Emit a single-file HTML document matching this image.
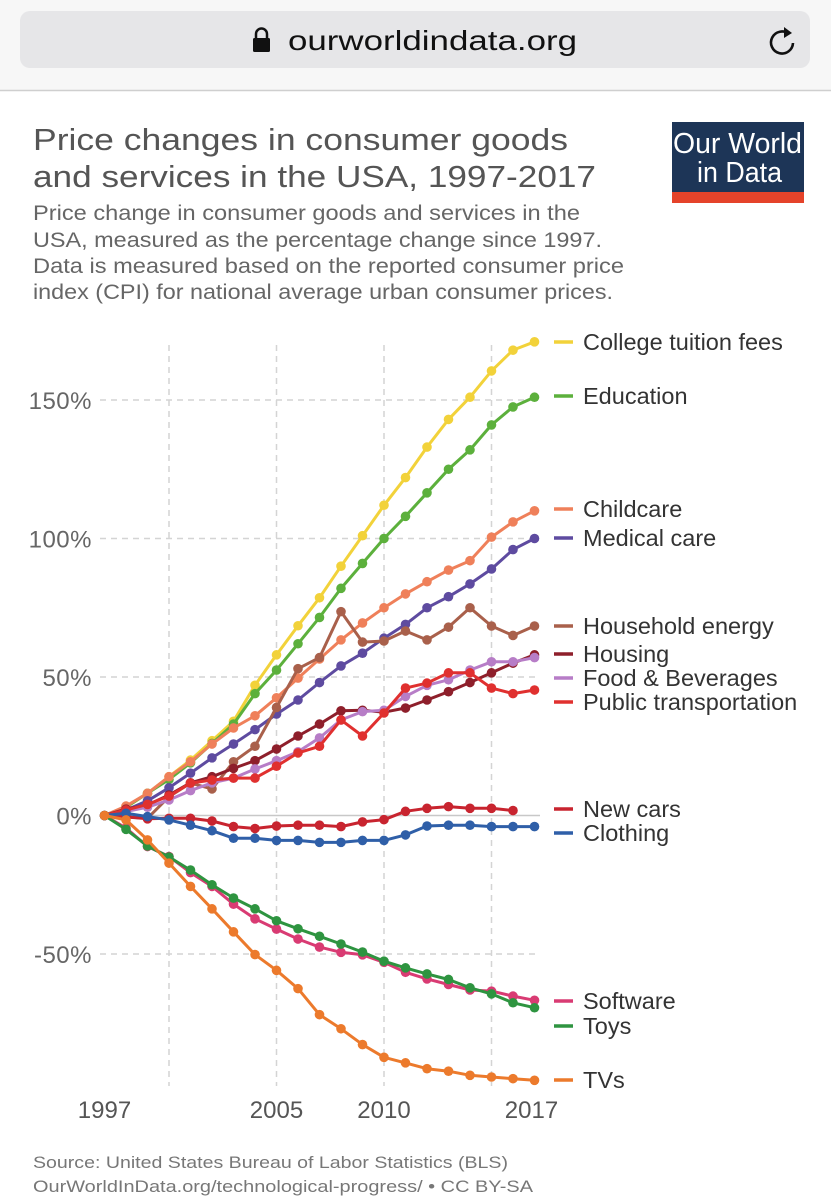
<!DOCTYPE html>
<html><head><meta charset="utf-8"><style>
html,body{margin:0;padding:0;background:#fff;}
svg{display:block;font-family:"Liberation Sans",Arial,sans-serif;}
</style></head><body>
<svg id="page" width="831" height="1200" viewBox="0 0 831 1200" xmlns="http://www.w3.org/2000/svg">
<rect x="0" y="0" width="831" height="90" fill="#f7f7f7"/>
<rect x="20" y="11" width="790" height="57" rx="10" fill="#e6e6e8"/>
<g><rect x="253" y="38" width="17" height="14" rx="1.5" fill="#111"/><path d="M256 39 v-5 a5.5 5.5 0 0 1 11 0 v5" fill="none" stroke="#111" stroke-width="2.5"/></g>
<text x="288" y="50" font-size="28" fill="#111" textLength="289" lengthAdjust="spacingAndGlyphs">ourworldindata.org</text>
<g><path d="M789 34 a11 11 0 1 0 4 9" fill="none" stroke="#111" stroke-width="2.6"/><path d="M784 27 l8 6 l-8 5 z" fill="#111"/></g>
<line x1="0" y1="90.5" x2="831" y2="90.5" stroke="#cfcfcf" stroke-width="1.5"/>
<text x="33" y="150" font-size="31" fill="#555" textLength="535" lengthAdjust="spacingAndGlyphs">Price changes in consumer goods</text>
<text x="33" y="187" font-size="31" fill="#555" textLength="563" lengthAdjust="spacingAndGlyphs">and services in the USA, 1997-2017</text>
<g fill="#666" font-size="21.5">
<text x="33" y="220" textLength="547" lengthAdjust="spacingAndGlyphs">Price change in consumer goods and services in the</text>
<text x="33" y="247" textLength="569" lengthAdjust="spacingAndGlyphs">USA, measured as the percentage change since 1997.</text>
<text x="33" y="273" textLength="591" lengthAdjust="spacingAndGlyphs">Data is measured based on the reported consumer price</text>
<text x="33" y="299" textLength="580" lengthAdjust="spacingAndGlyphs">index (CPI) for national average urban consumer prices.</text>
</g>
<g>
<rect x="672" y="122" width="132" height="81" fill="#1d3557"/>
<rect x="672" y="192" width="132" height="11" fill="#e5432a"/>
<text x="673" y="153" font-size="29" fill="#fff" textLength="129" lengthAdjust="spacingAndGlyphs">Our World</text>
<text x="697" y="182" font-size="29" fill="#fff" textLength="85" lengthAdjust="spacingAndGlyphs">in Data</text>
</g>
<g id="chart"></g>
<g fill="#777" font-size="17">
<text x="33" y="1168" textLength="475" lengthAdjust="spacingAndGlyphs">Source: United States Bureau of Labor Statistics (BLS)</text>
<text x="33" y="1192" textLength="500" lengthAdjust="spacingAndGlyphs">OurWorldInData.org/technological-progress/ • CC BY-SA</text>
</g>
</svg>
<script>
const years = [1997,1998,1999,2000,2001,2002,2003,2004,2005,2006,2007,2008,2009,2010,2011,2012,2013,2014,2015,2016,2017];
const seriesNames = ["College tuition fees","Education","Childcare","Medical care","Household energy","Housing","Food & Beverages","Public transportation","New cars","Clothing","Software","Toys","TVs"];
const seriesColors = ["#f2d23a","#5cb03c","#ef805a","#5e4ba0","#a9604b","#8e1f2b","#b77dc7","#e0302f","#c8242f","#2f5fa8","#d93b73","#2e9440","#ec7a2c"];
const tuition = [0,3,8,14,20,27,34,47,58,68.5,78.6,90,101,112,122,133,143,151,160.5,168,171];
const education = [0,3,8,13,19,26,33,44,52.5,62,71.5,82,91,100,108,116.5,125,132,141,147.5,151];
const childcare = [0,3.4,8,14,19.4,25.8,31.6,36,42.5,49.6,56.5,63.4,69.5,75,80,84.4,88.6,92,100.5,106,110];
const medical = [0,2,5.3,10,15.3,20.8,25.8,31,36.6,41.7,48,54,58.6,64,69,75,79,83.6,89,96,100];
const energy = [0,-0.5,-1,6.8,11.7,9.6,19.4,25,39,53,57,73.6,62.6,63,66.6,63.4,68,75,68.4,65,68.4];
const housing = [0,2.3,3.8,7.4,11.8,14,17,19.8,24,28.7,33,37.8,38,37.3,38.8,41.7,44.7,48,51.5,55,58];
const food = [0,1.4,3,5.6,9,11.8,13.5,16.8,19.8,23,28,34.5,37.5,38,43,47,49,52.5,55.5,55.5,57];
const transport = [0,2,4,7,11.7,12.8,13.5,13.5,17.8,22.6,25,34.5,28.7,37,46,47.8,51.5,51.5,46,44,45.3];
const newCars = [0,-0.5,-1.2,-1,-1,-2,-4,-4.7,-3.8,-3.5,-3.5,-4,-2.3,-1.5,1.5,2.6,3.2,2.6,2.6,1.8,null];
const clothing = [0,0.8,-0.4,-1.6,-3.5,-5.5,-8.2,-8.2,-9,-9,-9.7,-9.7,-9,-9,-7,-3.8,-3.5,-3.5,-4,-4,-4];
const software = [0,-4.5,-11.2,-14.8,-20.6,-25.6,-32,-37.3,-41,-44.6,-47.5,-49.4,-50.3,-53,-56.6,-59,-61,-63,-63.4,-65.2,-66.7];
const toys = [0,-5,-11,-15,-19.7,-25,-29.8,-33.7,-38,-40.9,-43.6,-46.4,-49.3,-52.6,-55,-57.2,-59.2,-62.2,-64.4,-67.6,-69.4];
const tvs = [0,-1.6,-8.8,-17.2,-25.6,-33.7,-42,-50.2,-55.9,-62.5,-71.9,-77,-82.7,-87.3,-89.3,-91.4,-92.3,-93.8,-94.4,-95,-95.6];
const yTicks = [150,100,50,0,-50];
const yTickLabels = ["150%","100%","50%","0%","-50%"];
const xGrid = [2000,2005,2010,2015];
const xTickYears = [1997,2005,2010,2017];
const xTickLabels = ["1997","2005","2010","2017"];
const legendY = [342,396,509,538,626,654,678,702,809,833,1001,1026,1080];

const allSeries = [tuition,education,childcare,medical,energy,housing,food,transport,newCars,clothing,software,toys,tvs];
const NS = "http://www.w3.org/2000/svg";
const chart = document.getElementById("chart");
function xs(yr){ return 104.5 + (yr-1997)*21.5; }
function ys(v){ return 815.5 - v*2.77; }
function mk(tag, attrs, parent){ const e=document.createElementNS(NS,tag); for(const k in attrs) e.setAttribute(k,attrs[k]); (parent||chart).appendChild(e); return e; }

xGrid.forEach(yr=>{
  const l = mk("line",{x1:xs(yr),x2:xs(yr),y1:345,y2:1086,stroke:"#d4d4d4","stroke-width":1.5,"stroke-dasharray":"6,5"});
  
  
});
yTicks.forEach((v,i)=>{
  const l = mk("line",{x1:100,x2:540,y1:ys(v),y2:ys(v),stroke:v===0?"#c8c8c8":"#d4d4d4","stroke-width":1.5,"stroke-dasharray":v===0?"none":"6,5"});
  
  
  const t = mk("text",{x:92,y:ys(v)+9,"text-anchor":"end","font-size":24,fill:"#666","letter-spacing":"0.5"});
  t.textContent = yTickLabels[i];
  
  
});
xTickYears.forEach((yr,i)=>{
  const t = mk("text",{x:xs(yr)-(yr===2017?3:0),y:1118,"text-anchor":"middle","font-size":24,fill:"#555"});
  t.textContent = xTickLabels[i];
  
  
});
allSeries.forEach((s,si)=>{
  const g = mk("g",{});
  
  
  let d="";
  s.forEach((v,i)=>{ if(v===null) return; d += (d?"L":"M")+xs(years[i]).toFixed(1)+" "+ys(v).toFixed(1); });
  const p = mk("path",{d:d,fill:"none",stroke:seriesColors[si],"stroke-width":3,"stroke-linejoin":"round"},g);
  
  
  s.forEach((v,i)=>{
    if(v===null) return;
    const c = mk("circle",{cx:xs(years[i]),cy:ys(v),r:4.8,fill:seriesColors[si]},g);
    
    
  });
});
seriesNames.forEach((n,i)=>{
  const g = mk("g",{});
  
  
  mk("line",{x1:554,x2:573,y1:legendY[i],y2:legendY[i],stroke:seriesColors[i],"stroke-width":3.5},g);
  const t = mk("text",{x:583,y:legendY[i]+8,"font-size":23.5,fill:"#333"},g);
  t.textContent = n;
});
</script>
</body></html>
